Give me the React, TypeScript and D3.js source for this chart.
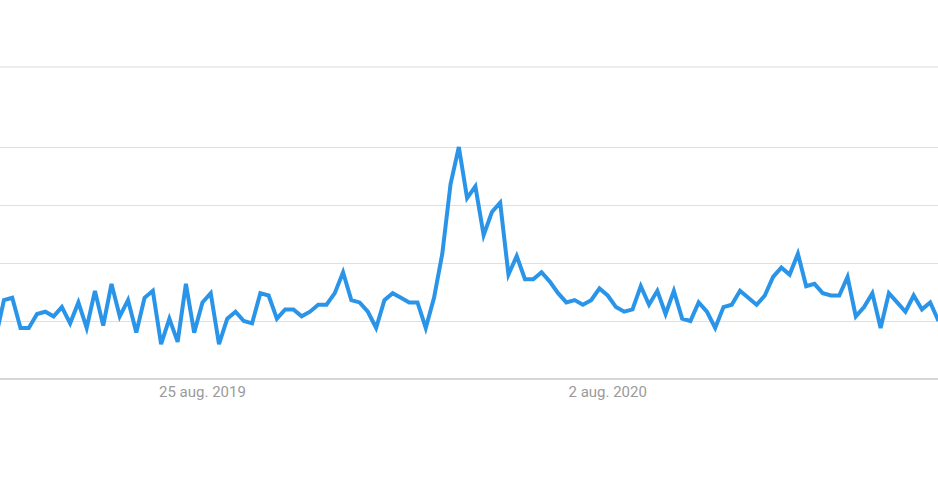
import React from "react";
import * as d3 from "d3";

// Weekly interest values (0–100), one per week starting the week of 3 Mar 2019
const firstWeek = new Date(2019, 2, 3);
const interest: number[] = [
  18, 34, 35, 22, 22, 28, 29, 27, 31, 24,
  33, 22, 38, 23, 41, 27, 34, 20, 35, 38,
  15, 26, 16, 41, 20, 33, 37, 15, 26, 29,
  25, 24, 37, 36, 26, 30, 30, 27, 29, 32,
  32, 37, 46, 34, 33, 29, 22, 34, 37, 35,
  33, 33, 22, 35, 54, 84, 100, 78, 83, 62,
  72, 76, 45, 53, 43, 43, 46, 42, 37, 33,
  34, 32, 34, 39, 36, 31, 29, 30, 40, 32,
  38, 28, 38, 26, 25, 33, 29, 22, 31, 32,
  38, 35, 32, 36, 44, 48, 45, 54, 40, 41,
  37, 36, 36, 44, 27, 31, 37, 22, 37, 33,
  29, 36, 30, 33, 25,
];

// Labelled weeks on the time axis
const tickDates: Date[] = [new Date(2019, 7, 25), new Date(2020, 7, 2)];
const tickLabels: string[] = ["25 aug. 2019", "2 aug. 2020"];

// Horizontal reference lines
const gridValues: number[] = [25, 50, 75, 100];

const W = 938;
const H = 480;
const topRule = 67;
const baseY = 379;
const peakY = 147;

export default function App() {
  const weeks = interest.map((_, i) => d3.timeWeek.offset(firstWeek, i));

  const x = d3
    .scaleTime()
    .domain([weeks[0], weeks[weeks.length - 1]])
    .range([-4.3, 938.5]);

  const y = d3.scaleLinear().domain([0, 100]).range([baseY, peakY]);

  const line = d3
    .line<number>()
    .x((_, i) => x(weeks[i]))
    .y((d) => y(d))
    .curve(d3.curveLinear);

  return (
    <svg
      width={W}
      height={H}
      style={{ position: "absolute", left: 0, top: 0, background: "#fff" }}
    >
      <defs>
        <clipPath id="plot">
          <rect x={0} y={0} width={W} height={H} />
        </clipPath>
      </defs>
      <line x1={0} x2={W} y1={topRule} y2={topRule} stroke="#dcdcdc" strokeWidth={1} />
      {gridValues.map((v) => (
        <line
          key={v}
          x1={0}
          x2={W}
          y1={Math.round(y(v)) + 0.5}
          y2={Math.round(y(v)) + 0.5}
          stroke="#e0e0e0"
          strokeWidth={1}
        />
      ))}
      <line x1={0} x2={W} y1={baseY} y2={baseY} stroke="#c8c8c8" strokeWidth={1.5} />
      <path
        d={line(interest) ?? ""}
        fill="none"
        stroke="#2a95e8"
        strokeWidth={4}
        strokeLinejoin="miter"
        strokeLinecap="butt"
        clipPath="url(#plot)"
      />
      {tickDates.map((d, i) => (
        <text
          key={i}
          x={x(d)}
          y={397}
          textAnchor="middle"
          fontFamily="Roboto, Arial, sans-serif"
          fontSize={15}
          fill="#9a9a9a"
        >
          {tickLabels[i]}
        </text>
      ))}
    </svg>
  );
}
